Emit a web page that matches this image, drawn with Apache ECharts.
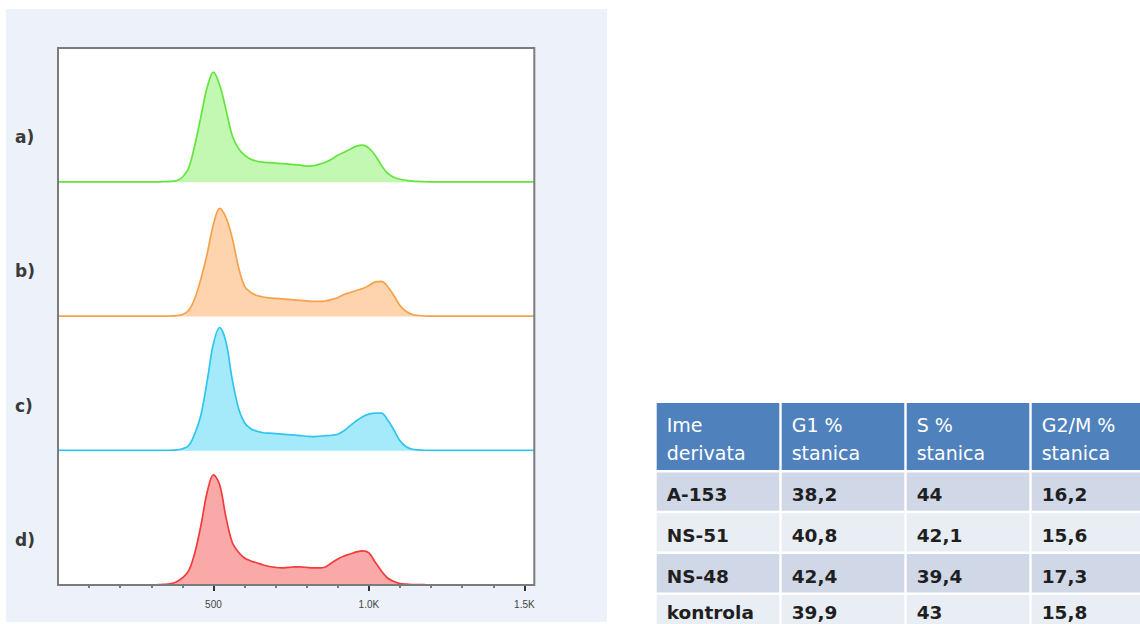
<!DOCTYPE html>
<html>
<head>
<meta charset="utf-8">
<script src="https://cdn.jsdelivr.net/npm/echarts@6/dist/echarts.min.js"></script>
<style>
html,body{margin:0;padding:0;background:#ffffff;}
#chart{width:1140px;height:624px;}
</style>
</head>
<body>
<div id="chart"></div>
<script>
// ---- DATA ----
const fluorescence = [0, 300, 320, 340, 360, 380, 400, 420, 440, 460, 480, 500, 520, 540, 560, 580, 600, 620, 640, 660, 680, 700, 720, 740, 760, 780, 800, 820, 840, 860, 880, 900, 920, 940, 960, 980, 1000, 1020, 1040, 1060, 1080, 1100, 1120, 1140, 1160, 1180, 1200, 1220, 1532];
const countsA = [0.3, 0.3, 0.4, 0.5, 0.8, 1.5, 5, 14, 37, 66, 95, 110, 97, 73, 47, 34, 27, 23, 21, 20, 19.5, 19, 18.5, 18, 17.5, 17, 16, 16.5, 18, 20, 23, 27, 30, 33, 36, 37, 34, 27, 17, 9, 5, 3, 2, 1.2, 0.8, 0.5, 0.4, 0.3, 0.3];
const countsB = [0.3, 0.3, 0.3, 0.3, 0.5, 0.8, 2, 6, 18, 38, 63, 92, 108, 99, 79, 50, 30, 24, 21, 19.5, 18.5, 18, 17.5, 17, 16.5, 16, 15.5, 15, 15, 15.5, 17, 19, 22, 24, 26, 28, 31, 34.5, 35, 30, 21, 11, 5, 2, 1, 0.5, 0.4, 0.3, 0.3];
const countsC = [0.3, 0.3, 0.3, 0.3, 0.5, 0.8, 2, 5, 17, 36, 70, 107, 123, 109, 72, 43, 28, 22, 19.5, 18, 17.5, 17, 16.5, 16, 15.5, 15, 14.5, 14, 14.5, 15, 15.5, 16.5, 20, 25, 30, 34, 36.5, 37.5, 37.5, 31, 21, 10, 4, 1.5, 0.8, 0.5, 0.4, 0.3, 0.3];
const countsD = [null, 0.2, 0.3, 0.6, 1.2, 3, 7, 14, 32, 60, 93, 110, 100, 68, 43, 33, 27, 24, 22, 20, 18.5, 17.5, 17, 17.5, 18, 18, 17.5, 17, 17, 18, 22, 26, 29, 31, 33, 34, 32, 23, 14, 7, 3.5, 1.5, 0.8, 0.5, 0.4, 0.3, null, null, null];
const panelLabels = ['a)', 'b)', 'c)', 'd)'];
const xMajorTicks = [500, 1000, 1500];
const xTickLabels = ['500', '1.0K', '1.5K'];
const xMinorTicks = [100, 200, 300, 400, 600, 700, 800, 900, 1100, 1200, 1300, 1400];
const tableHeader = [['Ime', 'derivata'], ['G1 %', 'stanica'], ['S %', 'stanica'], ['G2/M %', 'stanica']];
const derivatives = ['A-153', 'NS-51', 'NS-48', 'kontrola'];
const g1Pct = [38.2, 40.8, 42.4, 39.9];
const sPct = [44, 42.1, 39.4, 43];
const g2mPct = [16.2, 15.6, 17.3, 15.8];

// ---- STYLE / LAYOUT ----
const seriesList = [countsA, countsB, countsC, countsD];
const lineColors = ['#62E63C', '#F7A14C', '#2FC5F0', '#F23B3B'];
const fillColors = ['#C2F8B2', '#FDD4AE', '#A4EAFB', '#FAA9A9'];
const PLOT = {left: 58, top: 48, width: 476.3, height: 537};
const panelH = PLOT.height / 4;
const X_MIN = 0, X_MAX = 1532, Y_MAX = 134;
const FONT = 'DejaVu Sans';

const grids = [], xAxes = [], yAxes = [], series = [];
for (let i = 0; i < 4; i++) {
  grids.push({left: PLOT.left, top: PLOT.top + i * panelH, width: PLOT.width, height: panelH, show: false});
  xAxes.push({gridIndex: i, type: 'value', min: X_MIN, max: X_MAX, show: false});
  yAxes.push({gridIndex: i, type: 'value', min: 0, max: Y_MAX, show: false});
  series.push({
    type: 'line', xAxisIndex: i, yAxisIndex: i,
    data: fluorescence.map((x, j) => [x, seriesList[i][j]]),
    showSymbol: false, smooth: 0.35, connectNulls: false,
    lineStyle: {color: lineColors[i], width: 1.7},
    areaStyle: {color: fillColors[i], opacity: 1, origin: 'start'},
    silent: true
  });
}
// frame grid carrying the bottom axis (major + minor ticks)
grids.push({left: PLOT.left, top: PLOT.top, width: PLOT.width, height: PLOT.height, show: false});
xAxes.push({
  gridIndex: 4, type: 'value', position: 'bottom', min: X_MIN, max: X_MAX,
  axisLine: {show: false}, splitLine: {show: false},
  axisTick: {show: true, customValues: xMajorTicks, length: 6, lineStyle: {color: '#333333', width: 2}},
  axisLabel: {
    customValues: xMajorTicks,
    fontSize: 10, color: '#444444', fontFamily: 'Liberation Sans', margin: 14,
    formatter: v => { const k = xMajorTicks.indexOf(v); return k >= 0 ? xTickLabels[k] : ''; }
  }
});
xAxes.push({
  gridIndex: 4, type: 'value', position: 'bottom', offset: 0, min: X_MIN, max: X_MAX,
  axisLine: {show: false}, splitLine: {show: false},
  axisTick: {show: true, customValues: xMinorTicks, length: 3, lineStyle: {color: '#555555', width: 1.5}},
  axisLabel: {show: false}
});
yAxes.push({gridIndex: 4, type: 'value', min: 0, max: 1, show: false});

// ---- graphic: background panel, frame, labels, table ----
const graphic = [];
graphic.push({type: 'rect', z: -10, shape: {x: 6, y: 9, width: 601, height: 613}, style: {fill: '#EDF1F9'}});
graphic.push({type: 'rect', z: -9, shape: {x: PLOT.left, y: PLOT.top, width: PLOT.width, height: PLOT.height}, style: {fill: '#ffffff'}});
graphic.push({type: 'rect', z: 100, shape: {x: PLOT.left, y: PLOT.top, width: PLOT.width, height: PLOT.height}, style: {fill: 'none', stroke: '#7b7b7b', lineWidth: 2}});
panelLabels.forEach((t, i) => {
  graphic.push({type: 'text', z: 100, x: 15, y: PLOT.top + i * panelH + 89,
    style: {text: t, fontSize: 17, fontFamily: FONT, fontWeight: 'bold', fill: '#3a3a3a', verticalAlign: 'middle', align: 'left'}});
});

const T = {left: 656.7, colPitch: 125, colW: 122.6, headTop: 403, headH: 67, rowTop: 472.5, rowPitch: 40.8, rowH: 38.3};
const rowFills = ['#D0D8E8', '#E9EDF4'];
const fmt = v => String(v).replace('.', ',');
const rows = derivatives.map((d, r) => [d, fmt(g1Pct[r]), fmt(sPct[r]), fmt(g2mPct[r])]);
for (let c = 0; c < 4; c++) {
  const cx = T.left + c * T.colPitch;
  graphic.push({type: 'rect', z: 5, shape: {x: cx, y: T.headTop, width: T.colW, height: T.headH}, style: {fill: '#4F81BD'}});
  tableHeader[c].forEach((line, l) => {
    graphic.push({type: 'text', z: 6, x: cx + 10, y: T.headTop + 22 + l * 28.3,
      style: {text: line, fontSize: 19, fontFamily: FONT, fill: '#ffffff', verticalAlign: 'middle', align: 'left'}});
  });
  rows.forEach((row, r) => {
    const ry = T.rowTop + r * T.rowPitch;
    graphic.push({type: 'rect', z: 5, shape: {x: cx, y: ry, width: T.colW, height: T.rowH}, style: {fill: rowFills[r % 2]}});
    graphic.push({type: 'text', z: 6, x: cx + 10, y: Math.min(ry + 22, 612),
      style: {text: row[c], fontSize: 18.5, fontFamily: FONT, fontWeight: 'bold', fill: '#1f1f1f', verticalAlign: 'middle', align: 'left'}});
  });
}

const chart = echarts.init(document.getElementById('chart'), null, {renderer: 'svg'});
chart.setOption({
  animation: false,
  backgroundColor: '#ffffff',
  grid: grids, xAxis: xAxes, yAxis: yAxes, series: series,
  graphic: graphic
});
</script>
</body>
</html>
